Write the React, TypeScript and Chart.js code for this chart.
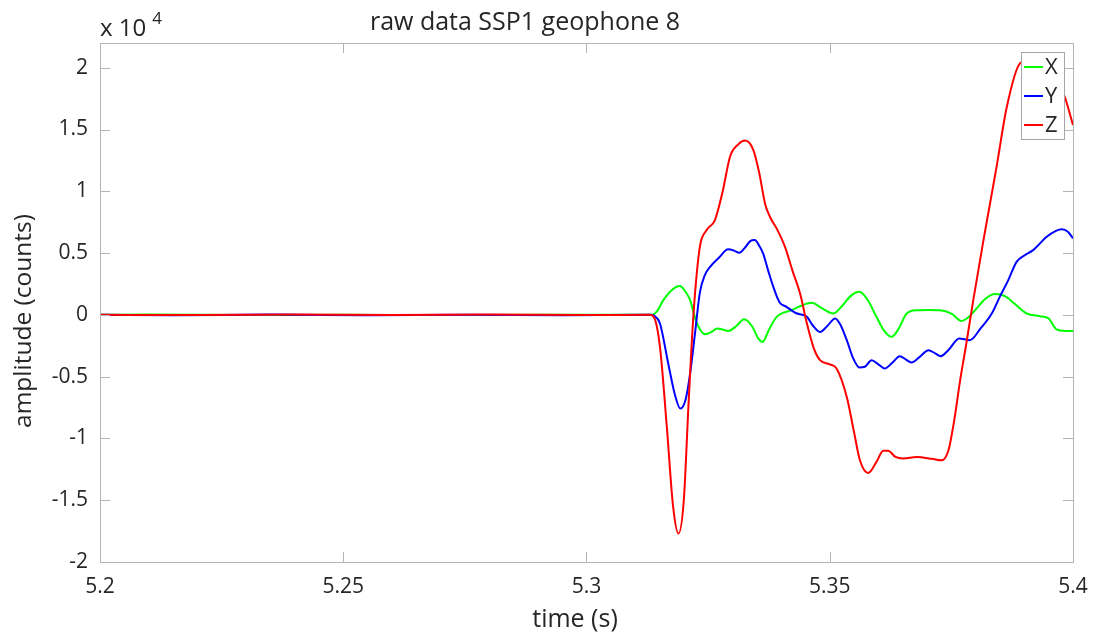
import React, { useEffect, useRef } from "react";
import { Chart, registerables } from "chart.js";

Chart.register(...registerables);

// ---- data (amplitude in counts) ----
const timeX = [5.2, 5.21, 5.23, 5.25, 5.27, 5.29, 5.31, 5.3135, 5.3145, 5.3158, 5.3175, 5.3192, 5.3203, 5.3213, 5.322, 5.3227, 5.3244, 5.3256, 5.3269, 5.3281, 5.3292, 5.3308, 5.3324, 5.334, 5.3353, 5.3362, 5.3375, 5.3391, 5.3422, 5.3445, 5.3463, 5.3485, 5.3507, 5.3525, 5.3545, 5.3561, 5.3578, 5.3596, 5.3612, 5.3627, 5.3642, 5.3658, 5.3679, 5.3703, 5.3727, 5.375, 5.3771, 5.3785, 5.3802, 5.382, 5.384, 5.386, 5.388, 5.3905, 5.3932, 5.395, 5.3966, 5.3985, 5.4];
const ampX = [0, 20, -15, 10, -20, 15, 0, 0, 300, 1190, 2000, 2330, 1900, 1190, 200, -700, -1560, -1400, -1100, -1200, -1300, -900, -350, -900, -1900, -2190, -1200, -160, 380, 800, 970, 500, 110, 700, 1600, 1860, 1200, -160, -1300, -1780, -1100, 110, 380, 400, 380, 100, -490, -200, 520, 1300, 1680, 1510, 900, 110, -110, -300, -1180, -1300, -1300];

const timeY = [5.2, 5.215, 5.235, 5.255, 5.275, 5.295, 5.313, 5.314, 5.3151, 5.3168, 5.3182, 5.3193, 5.3204, 5.3213, 5.3223, 5.3233, 5.3243, 5.3254, 5.3274, 5.3291, 5.3303, 5.3314, 5.3325, 5.3336, 5.3346, 5.3355, 5.3363, 5.3374, 5.3384, 5.3397, 5.3411, 5.343, 5.3446, 5.3453, 5.3466, 5.348, 5.3495, 5.3511, 5.3522, 5.3535, 5.3548, 5.3561, 5.3572, 5.3586, 5.36, 5.3613, 5.3628, 5.3644, 5.3656, 5.3668, 5.3685, 5.3703, 5.3716, 5.3728, 5.3745, 5.3766, 5.3788, 5.381, 5.3833, 5.385, 5.3867, 5.3884, 5.39, 5.3918, 5.3946, 5.3965, 5.3977, 5.399, 5.4];
const ampY = [0, -30, 20, -40, 10, -25, 0, -100, -700, -3930, -6500, -7580, -6800, -4740, -1500, 1800, 3200, 3890, 4700, 5300, 5200, 5020, 5400, 5950, 6050, 5600, 4970, 3500, 2270, 1000, 650, 150, -20, -160, -900, -1380, -900, -290, -800, -2050, -3500, -4260, -4200, -3670, -4000, -4340, -3900, -3340, -3600, -3860, -3400, -2860, -3100, -3340, -2800, -1910, -2050, -1100, 110, 1500, 2810, 4290, 4800, 5240, 6320, 6800, 6920, 6700, 6190];

const timeZ = [5.2, 5.22, 5.24, 5.26, 5.28, 5.3, 5.313, 5.314, 5.3151, 5.3165, 5.3178, 5.3189, 5.32, 5.321, 5.322, 5.3233, 5.3247, 5.3264, 5.328, 5.3295, 5.3312, 5.3326, 5.3343, 5.3355, 5.3367, 5.3377, 5.3392, 5.3408, 5.3424, 5.3439, 5.3453, 5.3468, 5.348, 5.35, 5.3514, 5.3535, 5.355, 5.3562, 5.3579, 5.3596, 5.361, 5.362, 5.3635, 5.3651, 5.3679, 5.371, 5.373, 5.3744, 5.3756, 5.3768, 5.378, 5.3795, 5.3816, 5.3843, 5.3864, 5.3891, 5.3925, 5.3955, 5.3983, 5.4];
const ampZ = [0, -20, 30, -10, 20, -15, 0, -300, -2600, -9000, -15500, -17700, -15000, -7000, 100, 5500, 6860, 7670, 10000, 12800, 13800, 14100, 13340, 11500, 9000, 7940, 6900, 5500, 3500, 1730, -700, -2800, -3670, -4000, -4340, -6640, -9500, -11770, -12800, -11900, -11000, -11000, -11500, -11630, -11500, -11650, -11770, -10960, -8500, -5300, -2500, 1190, 6050, 12000, 16840, 20350, 20800, 20000, 17650, 15360];

const seriesLabels = ["X", "Y", "Z"];
const seriesColors = ["#00ff00", "#0000ff", "#ff0000"];
const seriesDrawOrder = [3, 2, 1];

const xTickValues = [5.2, 5.25, 5.3, 5.35, 5.4];
const yTickValues = [-20000, -15000, -10000, -5000, 0, 5000, 10000, 15000, 20000];
const xMin = 5.2;
const xMax = 5.4;
const yMin = -20000;
const yMax = 22000;
const yExponent = 4;

const titleText = "raw data SSP1 geophone 8";
const xTitle = "time (s)";
const yTitle = "amplitude (counts)";

const FONT = "'Open Sans', sans-serif";
const TEXT = "#262626";
const AXIS = "#b4b4b4";

const toPoints = (t: number[], v: number[]) => t.map((x, i) => ({ x, y: v[i] }));

const decorPlugin = {
  id: "matlabDecor",
  afterDatasetsDraw(chart: any) {
    const { ctx, chartArea, scales } = chart;
    const { left, right, top, bottom } = chartArea;
    ctx.save();
    // box
    ctx.strokeStyle = AXIS;
    ctx.lineWidth = 1;
    ctx.strokeRect(Math.round(left) + 0.5, Math.round(top) + 0.5, Math.round(right - left), Math.round(bottom - top));
    // inward ticks
    const tl = 10;
    ctx.beginPath();
    for (const v of xTickValues) {
      const px = Math.round(scales.x.getPixelForValue(v)) + 0.5;
      ctx.moveTo(px, bottom);
      ctx.lineTo(px, bottom - tl);
      ctx.moveTo(px, top);
      ctx.lineTo(px, top + tl);
    }
    for (const v of yTickValues) {
      const py = Math.round(scales.y.getPixelForValue(v)) + 0.5;
      ctx.moveTo(left, py);
      ctx.lineTo(left + tl, py);
      ctx.moveTo(right, py);
      ctx.lineTo(right - tl, py);
    }
    ctx.stroke();

    // legend
    const lx = 1021, ly = 52, lw = 43, lh = 87;
    ctx.fillStyle = "#ffffff";
    ctx.fillRect(lx, ly, lw, lh);
    ctx.strokeStyle = "#a6a6a6";
    ctx.lineWidth = 1;
    ctx.strokeRect(lx + 0.5, ly + 0.5, lw, lh);
    chart.data.datasets.forEach((ds: any, i: number) => {
      const yy = 67 + i * 29;
      ctx.strokeStyle = ds.borderColor;
      ctx.lineWidth = 2;
      ctx.beginPath();
      ctx.moveTo(lx + 3, yy);
      ctx.lineTo(lx + 22, yy);
      ctx.stroke();
      ctx.fillStyle = TEXT;
      ctx.font = `22px ${FONT}`;
      ctx.textAlign = "left";
      ctx.textBaseline = "middle";
      ctx.fillText(ds.label, lx + 24, yy + 1);
    });
    ctx.restore();
  },
  afterDraw(chart: any) {
    const { ctx, chartArea } = chart;
    ctx.save();
    ctx.fillStyle = TEXT;
    // title
    ctx.font = `25px ${FONT}`;
    ctx.textAlign = "center";
    ctx.textBaseline = "alphabetic";
    ctx.fillText(titleText, 525, 30);
    // x title
    ctx.fillText(xTitle, 575, 627);
    // y title
    ctx.save();
    ctx.translate(31, 321);
    ctx.rotate(-Math.PI / 2);
    ctx.font = `24.5px ${FONT}`;
    ctx.textAlign = "center";
    ctx.textBaseline = "alphabetic";
    ctx.fillText(yTitle, 0, 0);
    ctx.restore();
    // exponent
    ctx.textAlign = "left";
    ctx.font = `24px ${FONT}`;
    ctx.fillText("x 10", chartArea.left, 36);
    const w = ctx.measureText("x 10").width + 6;
    ctx.font = `17px ${FONT}`;
    ctx.fillText(String(yExponent), chartArea.left + w, 24);
    ctx.restore();
  },
};

export default function App() {
  const canvasRef = useRef<HTMLCanvasElement | null>(null);

  useEffect(() => {
    document.body.style.margin = "0";
    const canvas = canvasRef.current;
    if (!canvas) return;
    const series = [
      toPoints(timeX, ampX),
      toPoints(timeY, ampY),
      toPoints(timeZ, ampZ),
    ];
    const chart = new Chart(canvas, {
      type: "line",
      data: {
        datasets: series.map((data, i) => ({
          label: seriesLabels[i],
          data,
          order: seriesDrawOrder[i],
          borderColor: seriesColors[i],
          backgroundColor: seriesColors[i],
          borderWidth: 2,
          pointRadius: 0,
          fill: false,
          cubicInterpolationMode: "monotone" as const,
        })),
      },
      options: {
        animation: false,
        responsive: false,
        maintainAspectRatio: false,
        layout: { padding: { left: 0, top: 43, right: 20, bottom: 0 } },
        plugins: {
          legend: { display: false },
          title: { display: false },
          tooltip: { enabled: false },
        },
        scales: {
          x: {
            type: "linear",
            min: xMin,
            max: xMax,
            grid: { display: false, drawTicks: false },
            border: { display: false },
            afterBuildTicks: (s: any) => {
              s.ticks = xTickValues.map((value) => ({ value }));
            },
            afterFit: (s: any) => {
              s.height = 77;
              s.paddingLeft = 0;
              s.paddingRight = 0;
            },
            ticks: {
              padding: 12,
              maxRotation: 0,
              color: TEXT,
              font: { family: FONT, size: 21 },
              callback: (v: any) => String(Number(Number(v).toFixed(2))),
            },
          },
          y: {
            type: "linear",
            min: yMin,
            max: yMax,
            grid: { display: false, drawTicks: false },
            border: { display: false },
            afterBuildTicks: (s: any) => {
              s.ticks = yTickValues.map((value) => ({ value }));
            },
            afterFit: (s: any) => {
              s.width = 100;
              s.paddingTop = 0;
              s.paddingBottom = 0;
            },
            ticks: {
              padding: 12,
              color: TEXT,
              font: { family: FONT, size: 21 },
              callback: (v: any) => String(Number((Number(v) / Math.pow(10, yExponent)).toFixed(2))),
            },
          },
        },
      },
      plugins: [decorPlugin],
    });
    return () => chart.destroy();
  }, []);

  return <canvas ref={canvasRef} width={1093} height={639} style={{ display: "block" }} />;
}
